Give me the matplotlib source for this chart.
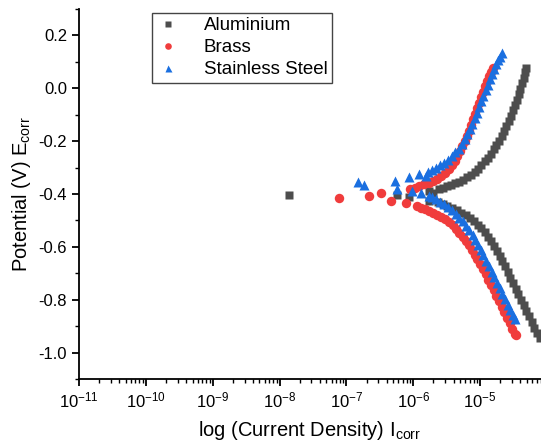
import numpy as np
import matplotlib.pyplot as plt
from matplotlib.ticker import LogLocator, MultipleLocator, NullFormatter

plt.rcParams['font.family'] = ['Liberation Sans', 'DejaVu Sans']
plt.rcParams['mathtext.default'] = 'regular'

# log10(current density) and potential (V)
al_log_i = [-7.86, -6.24, -6.07, -5.76, -5.77, -5.70,
            -5.62, -5.56, -5.50, -5.44, -5.38, -5.32, -5.26, -5.20, -5.14, -5.08,
            -5.03, -4.98, -4.93, -4.88, -4.84, -4.80, -4.76, -4.72, -4.68, -4.64,
            -4.61, -4.57, -4.54, -4.51, -4.48, -4.45, -4.42, -4.40, -4.37, -4.35,
            -4.33, -4.31,
            -5.63, -5.56, -5.49, -5.42, -5.35, -5.28, -5.21, -5.15, -5.09, -5.03,
            -4.98, -4.93, -4.88, -4.84, -4.79, -4.75, -4.71, -4.67, -4.63, -4.59,
            -4.55, -4.51, -4.47, -4.43, -4.39, -4.35, -4.31, -4.27, -4.23, -4.19,
            -4.15, -4.11]
al_e = [-0.405, -0.403, -0.410, -0.388, -0.426, -0.395,
        -0.380, -0.376, -0.371, -0.366, -0.360, -0.353, -0.346, -0.337, -0.327, -0.316,
        -0.304, -0.291, -0.277, -0.262, -0.247, -0.231, -0.215, -0.198, -0.180, -0.161,
        -0.143, -0.124, -0.104, -0.084, -0.064, -0.043, -0.022, -0.001, 0.020, 0.040,
        0.060, 0.078,
        -0.432, -0.438, -0.445, -0.453, -0.462, -0.471, -0.481, -0.492, -0.503, -0.516,
        -0.530, -0.545, -0.561, -0.578, -0.596, -0.615, -0.634, -0.654, -0.674, -0.695,
        -0.716, -0.737, -0.758, -0.779, -0.800, -0.821, -0.842, -0.863, -0.884, -0.905,
        -0.926, -0.945]

brass_log_i = [-7.11, -6.66, -6.48, -6.34, -6.11,
               -6.05, -5.98, -5.91, -5.84, -5.77, -5.70, -5.64, -5.58, -5.52, -5.47,
               -5.42, -5.38, -5.34, -5.30, -5.27, -5.23, -5.20, -5.17, -5.14, -5.11,
               -5.08, -5.05, -5.02, -4.99, -4.96, -4.93, -4.90, -4.87, -4.84, -4.81,
               -5.95, -5.89, -5.83, -5.77, -5.71, -5.65, -5.59, -5.53, -5.47, -5.41,
               -5.36, -5.31, -5.26, -5.21, -5.16, -5.12, -5.08, -5.04, -5.00, -4.96,
               -4.92, -4.88, -4.84, -4.80, -4.76, -4.72, -4.68, -4.64, -4.60, -4.56,
               -4.52, -4.48, -4.46]
brass_e = [-0.414, -0.406, -0.398, -0.425, -0.434,
           -0.382, -0.376, -0.370, -0.364, -0.358, -0.350, -0.342, -0.332, -0.320, -0.307,
           -0.292, -0.276, -0.258, -0.239, -0.220, -0.200, -0.180, -0.160, -0.139, -0.118,
           -0.097, -0.076, -0.055, -0.034, -0.013, 0.008, 0.028, 0.047, 0.063, 0.075,
           -0.445, -0.452, -0.458, -0.464, -0.470, -0.478, -0.486, -0.496, -0.507, -0.519,
           -0.532, -0.546, -0.561, -0.577, -0.594, -0.611, -0.629, -0.647, -0.666, -0.685,
           -0.704, -0.724, -0.744, -0.764, -0.784, -0.805, -0.826, -0.847, -0.868, -0.889,
           -0.910, -0.928, -0.935]

ss_log_i = [-6.83, -6.73, -6.28, -6.24, -6.07, -6.02, -5.91, -5.81, -5.88, -5.77,
            -5.78, -5.72, -5.66, -5.60, -5.54, -5.48, -5.42, -5.37, -5.32, -5.27,
            -5.23, -5.19, -5.15, -5.12, -5.08, -5.05, -5.01, -4.98, -4.95, -4.92,
            -4.89, -4.86, -4.83, -4.80, -4.77, -4.74, -4.71, -4.68,
            -5.72, -5.66, -5.60, -5.54, -5.48, -5.42, -5.36, -5.31, -5.26, -5.21,
            -5.16, -5.11, -5.07, -5.03, -4.99, -4.95, -4.91, -4.87, -4.83, -4.79,
            -4.75, -4.71, -4.67, -4.63, -4.59, -4.55, -4.51, -4.48]
ss_e = [-0.356, -0.366, -0.350, -0.382, -0.337, -0.388, -0.325, -0.331, -0.398, -0.407,
        -0.318, -0.309, -0.300, -0.291, -0.281, -0.270, -0.257, -0.243, -0.228, -0.211,
        -0.193, -0.174, -0.155, -0.135, -0.114, -0.093, -0.072, -0.050, -0.029, -0.008,
        0.013, 0.034, 0.054, 0.073, 0.091, 0.107, 0.120, 0.132,
        -0.412, -0.420, -0.429, -0.439, -0.450, -0.462, -0.475, -0.489, -0.504, -0.520,
        -0.537, -0.555, -0.574, -0.593, -0.612, -0.632, -0.652, -0.673, -0.694, -0.715,
        -0.736, -0.757, -0.778, -0.799, -0.820, -0.840, -0.858, -0.872]

fig = plt.figure(figsize=(5.41, 4.47), dpi=100)
ax = fig.add_axes([0.146, 0.152, 0.854, 0.828])

ax.plot(10 ** np.array(al_log_i), al_e, 's', color='#4d4d4d', ms=6.3, mec='none', label='Aluminium')
ax.plot(10 ** np.array(brass_log_i), brass_e, 'o', color='#f03c3c', ms=6.8, mec='none', label='Brass')
ax.plot(10 ** np.array(ss_log_i), ss_e, '^', color='#1a6fe0', ms=7.2, mec='none', label='Stainless Steel')

ax.set_xscale('log')
ax.set_xlim(1e-11, 10 ** -4.09)
ax.set_ylim(-1.1, 0.3)
ax.xaxis.set_major_locator(LogLocator(base=10, numticks=20))
ax.xaxis.set_minor_locator(LogLocator(base=10, subs=np.arange(2, 10), numticks=20))
ax.xaxis.set_minor_formatter(NullFormatter())
ax.yaxis.set_major_locator(MultipleLocator(0.2))
ax.yaxis.set_minor_locator(MultipleLocator(0.1))
ax.yaxis.set_major_formatter(plt.FuncFormatter(lambda v, p: f'{v:.1f}'))

for s in ['top', 'right']:
    ax.spines[s].set_visible(False)
for s in ['left', 'bottom']:
    ax.spines[s].set_linewidth(1.3)
ax.tick_params(which='major', direction='out', length=5, width=1.3, labelsize=12)
ax.tick_params(which='minor', direction='out', length=3, width=1.0)

ax.set_xlabel('log (Current Density) I$_{corr}$', fontsize=14.5, labelpad=6)
ax.set_ylabel('Potential (V) E$_{corr}$', fontsize=14.5, labelpad=4)

leg = ax.legend(loc='upper left', bbox_to_anchor=(0.158, 0.99), fontsize=13.5,
                fancybox=False, edgecolor='#444444', framealpha=1, markerscale=0.7,
                handlelength=1.2, handletextpad=1.3, borderpad=0.25, labelspacing=0.25,
                borderaxespad=0)
leg.get_frame().set_linewidth(1.0)

fig.savefig('out.png', dpi=100)
